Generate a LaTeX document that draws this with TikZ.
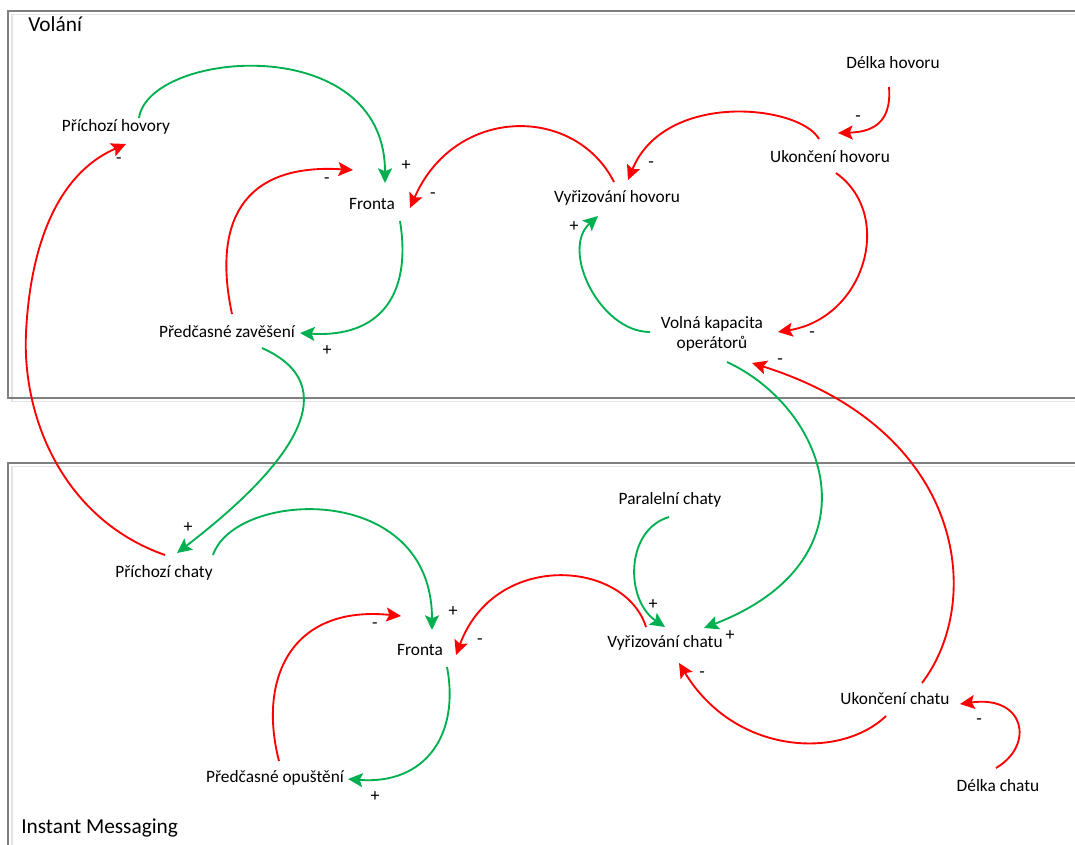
\documentclass[tikz,border=0pt]{standalone}
\usepackage{fontspec}
\setmainfont{Carlito}
\usetikzlibrary{arrows.meta,calc}
\definecolor{pos}{HTML}{00B050}
\definecolor{neg}{HTML}{FF0000}
\definecolor{frame}{HTML}{7F7F7F}
\definecolor{frameshade}{HTML}{E4E4E4}
\begin{document}
\begin{tikzpicture}[x=0.75pt,y=-0.75pt,
  var/.style={inner sep=1pt,align=center,font=\fontsize{13}{15}\selectfont},
  title/.style={inner sep=0pt,anchor=west,font=\fontsize{16}{18}\selectfont},
  sign/.style={inner sep=0pt,font=\fontsize{13.5}{15}\selectfont},
  link/.style={line width=1.4pt,-{Stealth[length=11pt,width=10.5pt,inset=2.2pt]}},
  plus/.style={link,draw=pos},
  minus/.style={link,draw=neg},
  panel/.style={draw=frame,line width=1.1pt},
  panelshade/.style={draw=frameshade,line width=1.1pt}]
\useasboundingbox (0,0) rectangle (1075,845);

% panels
\begin{scope}
\clip (0,0) rectangle (1075,845);
\draw[panelshade] (12,14.5) rectangle (1100,401.5);
\draw[panel] (8,11) rectangle (1096,398);
\draw[panelshade] (12,466.5) rectangle (1100,870);
\draw[panel] (8,463) rectangle (1096,866);
\end{scope}

\node[title] (tcall) at (28,24) {Volání};
\node[title] (tim) at (21,828) {Instant Messaging};

% calls
\node[var] (ph) at (116,127) {Příchozí hovory};
\node[var] (f1) at (372,204) {Fronta};
\node[var] (pz) at (227,332) {Předčasné zavěšení};
\node[var] (vh) at (617,198) {Vyřizování hovoru};
\node[var] (uh) at (830,157) {Ukončení hovoru};
\node[var] (dh) at (893,63) {Délka hovoru};
\node[var] (vk) at (712,334) {Volná kapacita\\operátorů};

% chats
\node[var] (pc) at (164,573) {Příchozí chaty};
\node[var] (f2) at (420,650) {Fronta};
\node[var] (po) at (275,778) {Předčasné opuštění};
\node[var] (par) at (670,500) {Paralelní chaty};
\node[var] (vc) at (665,643) {Vyřizování chatu};
\node[var] (uc) at (895,699) {Ukončení chatu};
\node[var] (dc) at (998,786) {Délka chatu};

% links of the call loop
\draw[plus] ($(ph)+(23,-9)$) .. controls (149,50) and (385,30) .. ($(f1)+(13,-21)$);
\draw[minus] ($(pz)+(5,-18)$) .. controls (213,225) and (240,163) .. ($(f1)+(-19,-34)$);
\draw[plus] ($(f1)+(28,17)$) .. controls (412,295) and (380,338) .. ($(pz)+(73,1)$);
\draw[plus] ($(pz)+(35,16)$) .. controls (345,385) and (297,461) .. ($(pc)+(13,-20)$);
\draw[minus] ($(pc)+(1,-18)$) .. controls (65,520) and (22,420) .. (26,333)
  .. controls (30,250) and (55,175) .. ($(ph)+(10,17)$);
\draw[minus] ($(vh)+(-3,-16)$) .. controls (575,105) and (455,105) .. ($(f1)+(38,4)$);
\draw[minus] ($(dh)+(-4,24)$) .. controls (892,125) and (870,132) .. ($(uh)+(8,-24)$);
\draw[minus] ($(uh)+(-11,-18)$) .. controls (800,105) and (665,90) .. ($(vh)+(11,-18)$);
\draw[minus] ($(uh)+(6,16)$) .. controls (895,215) and (865,318) .. ($(vk)+(66,-2)$);
\draw[plus] ($(vk)+(-62,-2)$) .. controls (600,332) and (560,250) .. ($(vh)+(-19,18)$);

% links between the loops
\draw[minus] ($(uc)+(27,-16)$) .. controls (985,600) and (965,430) .. ($(vk)+(40,29)$);
\draw[plus] ($(vk)+(15,28)$) .. controls (830,410) and (880,560) .. ($(vc)+(39,-15)$);

% links of the chat loop
\draw[plus] ($(par)+(-1,17)$) .. controls (625,530) and (625,600) .. ($(vc)+(0,-16)$);
\draw[minus] ($(vc)+(-19,-16)$) .. controls (625,560) and (495,550) .. ($(f2)+(36,5)$);
\draw[plus] ($(pc)+(49,-18)$) .. controls (235,490) and (432,480) .. ($(f2)+(12,-20)$);
\draw[minus] ($(po)+(4,-17)$) .. controls (258,680) and (290,605) .. ($(f2)+(-19,-34)$);
\draw[plus] ($(f2)+(27,17)$) .. controls (460,735) and (425,785) .. ($(po)+(73,1)$);
\draw[minus] ($(uc)+(-9,17)$) .. controls (840,760) and (735,755) .. ($(vc)+(14,20)$);
\draw[minus] ($(dc)+(-2,-18)$) .. controls (1035,745) and (1025,695) .. ($(uc)+(65,5)$);

% polarity marks
\node[sign] (s1) at (119,161) {-};
\node[sign] (s2) at (406,166) {+};
\node[sign] (s3) at (327,181) {-};
\node[sign] (s4) at (433,196) {-};
\node[sign] (s5) at (327,351) {+};
\node[sign] (s6) at (858,119) {-};
\node[sign] (s7) at (651,165) {-};
\node[sign] (s8) at (574,227) {+};
\node[sign] (s9) at (812,335) {-};
\node[sign] (s10) at (780,362) {-};
\node[sign] (s11) at (188,528) {+};
\node[sign] (s12) at (453,612) {+};
\node[sign] (s13) at (375,626) {-};
\node[sign] (s14) at (480,642) {-};
\node[sign] (s15) at (375,797) {+};
\node[sign] (s16) at (653,605) {+};
\node[sign] (s17) at (730,636) {+};
\node[sign] (s18) at (702,675) {-};
\node[sign] (s19) at (979,722) {-};
\end{tikzpicture}
\end{document}
